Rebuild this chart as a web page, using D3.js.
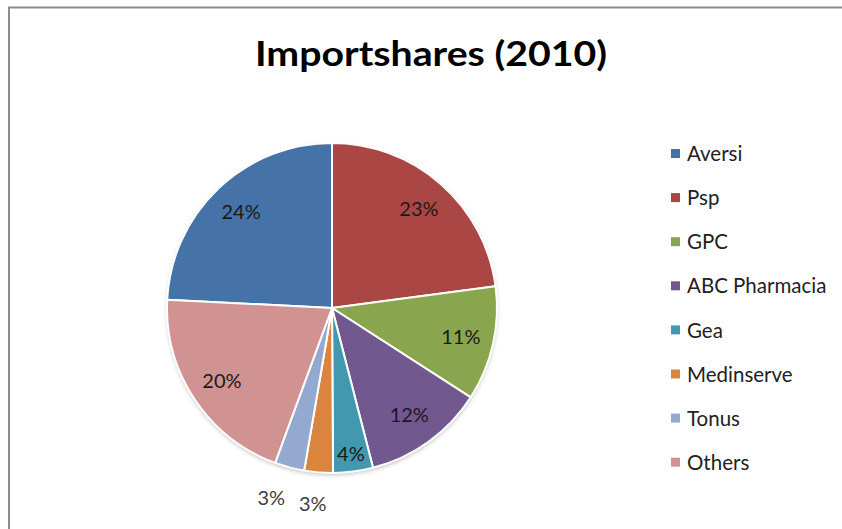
<!DOCTYPE html>
<html>
<head>
<meta charset="utf-8">
<script src="https://cdn.jsdelivr.net/npm/d3@7"></script>
<style>
  body { margin: 0; background: #fff; }
  svg { display: block; font-family: Lato, "Open Sans", sans-serif; }
</style>
</head>
<body>
<script>
'use strict';

// slice values (share of imports, %)
const companies = ["Aversi", "Psp", "GPC", "ABC Pharmacia", "Gea", "Medinserve", "Tonus", "Others"];
const shares = [24.2, 22.9, 11.2, 11.9, 3.9, 2.8, 2.9, 20.2];
const sliceColors = ["#4572A7", "#AA4643", "#89A54E", "#71588F", "#4198AF", "#DB843D", "#93A9CF", "#D19392"];
const chartTitle = "Importshares (2010)";

(function () {
    const width = 842, height = 529;
    const cx = 332, cy = 308, radius = 165;

    const svg = d3.select('body')
        .append('svg')
        .attr('width', width)
        .attr('height', height);

    // frame of the chart area
    svg.append('path')
        .attr('d', `M 9 ${height} L 9 7.5 L ${width} 7.5`)
        .attr('fill', 'none')
        .attr('stroke', '#8c8c8c')
        .attr('stroke-width', 2);

    svg.append('text')
        .attr('x', 431)
        .attr('y', 66)
        .attr('text-anchor', 'middle')
        .attr('textLength', 352)
        .attr('lengthAdjust', 'spacingAndGlyphs')
        .style('font-size', '34px')
        .style('font-weight', 'bold')
        .attr('fill', '#000')
        .text(chartTitle);

    const color = d3.scaleOrdinal().domain(companies).range(sliceColors);

    const data = companies.map((name, i) => ({ name: name, value: shares[i] }));
    const total = d3.sum(shares);

    // Aversi ends at 12 o'clock, the rest run clockwise from there
    const start = -shares[0] / total * 2 * Math.PI;
    const pie = d3.pie()
        .sort(null)
        .value(d => d.value)
        .startAngle(start)
        .endAngle(start + 2 * Math.PI);

    const arcs = pie(data);
    const arc = d3.arc().innerRadius(0).outerRadius(radius);

    const defs = svg.append('defs');
    const shadow = defs.append('filter').attr('id', 'shadow')
        .attr('x', '-10%').attr('y', '-10%').attr('width', '120%').attr('height', '125%');
    shadow.append('feDropShadow')
        .attr('dx', 0).attr('dy', 2).attr('stdDeviation', 2)
        .attr('flood-color', '#000').attr('flood-opacity', 0.25);

    const g = svg.append('g').attr('transform', `translate(${cx},${cy})`);

    g.append('circle')
        .attr('r', radius)
        .attr('fill', '#fff')
        .attr('filter', 'url(#shadow)');

    g.selectAll('.slice')
        .data(arcs)
        .enter()
        .append('path')
        .attr('class', 'slice')
        .attr('d', arc)
        .attr('fill', d => color(d.data.name))
        .attr('stroke', '#fff')
        .attr('stroke-width', 2)
        .attr('stroke-linejoin', 'round');

    // label position: small slices go outside, the rest sit inside
    function labelPos(d) {
        const a = (d.startAngle + d.endAngle) / 2;
        const v = d.data.value;
        let r = radius * 0.8, sx = 1;
        if (v < 3.5) { r = radius * 1.19; sx = 1.2; }
        else if (v < 5) r = radius * 0.89;
        return [Math.sin(a) * r * sx, -Math.cos(a) * r];
    }

    g.selectAll('.pct')
        .data(arcs)
        .enter()
        .append('text')
        .attr('class', 'pct')
        .attr('transform', d => `translate(${labelPos(d)})`)
        .attr('text-anchor', 'middle')
        .attr('dy', '0.35em')
        .style('font-size', '20px')
        .attr('fill', d => d.data.value < 3.5 ? '#404040' : '#1a1a1a')
        .text(d => Math.round(d.data.value / total * 100) + '%');

    // legend
    const legend = svg.append('g').attr('transform', 'translate(671,154)');
    const rows = legend.selectAll('.row')
        .data(companies)
        .enter()
        .append('g')
        .attr('class', 'row')
        .attr('transform', (d, i) => `translate(0,${i * 44.1})`);

    rows.append('rect')
        .attr('x', 0)
        .attr('y', -5)
        .attr('width', 9)
        .attr('height', 9)
        .attr('fill', d => color(d));

    rows.append('text')
        .attr('x', 16)
        .attr('y', 0)
        .attr('dy', '0.35em')
        .style('font-size', '20.5px')
        .attr('fill', '#222')
        .text(d => d);
})();
</script>
</body>
</html>
